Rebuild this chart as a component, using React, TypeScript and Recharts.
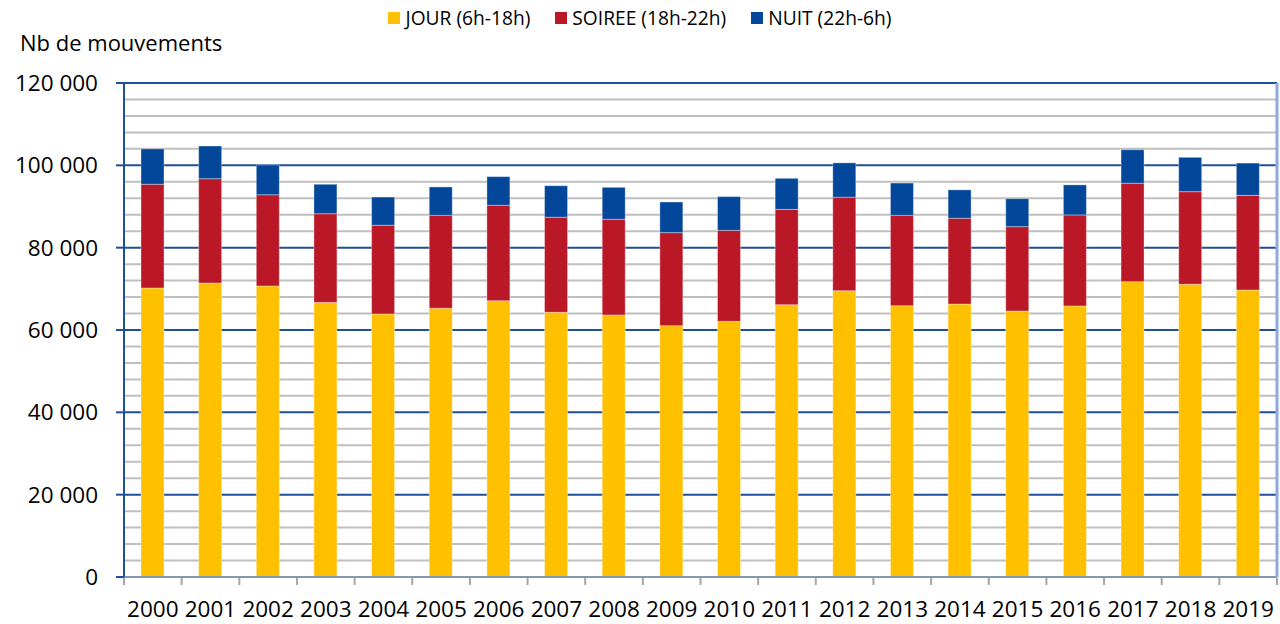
import { Bar, BarChart, CartesianGrid, XAxis, YAxis } from 'recharts'

const years = ['2000', '2001', '2002', '2003', '2004', '2005', '2006', '2007', '2008', '2009',
	'2010', '2011', '2012', '2013', '2014', '2015', '2016', '2017', '2018', '2019']

// mouvements par tranche horaire
const jour = [70200, 71400, 70700, 66700, 63900, 65300, 67100, 64300, 63650, 61050,
	62100, 66150, 69550, 65900, 66300, 64600, 65850, 71750, 71100, 69700]
const soiree = [25200, 25350, 22150, 21550, 21550, 22550, 23200, 23100, 23250, 22600,
	22100, 23150, 22700, 21950, 20850, 20500, 22100, 23900, 22500, 23000]
const nuit = [8600, 7950, 7250, 7150, 6850, 6900, 6950, 7650, 7750, 7450,
	8200, 7550, 8350, 7850, 6900, 6800, 7300, 8150, 8350, 7850]

const yTicks = [0, 20000, 40000, 60000, 80000, 100000, 120000]
const minorLines = [4000, 8000, 12000, 16000, 24000, 28000, 32000, 36000, 44000, 48000, 52000, 56000,
	64000, 68000, 72000, 76000, 84000, 88000, 92000, 96000, 104000, 108000, 112000, 116000]

const series = [
	{ key: 'jour', name: 'JOUR (6h-18h)', color: '#FFC000' },
	{ key: 'soiree', name: 'SOIREE (18h-22h)', color: '#BA1826' },
	{ key: 'nuit', name: 'NUIT (22h-6h)', color: '#03479A' },
]

const data = years.map((year, i) => ({ year, jour: jour[i], soiree: soiree[i], nuit: nuit[i] }))

const font = '"Open Sans", sans-serif'
const fmt = (v: number) => String(v).replace(/\B(?=(\d{3})+(?!\d))/g, ' ')

function YearTick(props: any) {
	const { x, y, payload, index, visibleTicksCount } = props
	const half = payload?.offset ?? 28.8
	return (
		<g>
			<line x1={x - half} x2={x - half} y1={y + 1} y2={y + 8} stroke="#A6A6A6" strokeWidth={2} />
			{index === visibleTicksCount - 1 && (
				<line x1={x + half} x2={x + half} y1={y + 1} y2={y + 8} stroke="#A6A6A6" strokeWidth={2} />
			)}
			<text x={x} y={y + 40} textAnchor="middle" fill="#000" fontSize={22.5} fontFamily={font}>
				{payload.value}
			</text>
		</g>
	)
}

export default function App() {
	return (
		<div style={{ position: 'absolute', left: 0, top: 0, width: 1280, height: 624, background: '#fff', fontFamily: font }}>
			<div style={{ position: 'absolute', left: 0, top: 5, width: 1280, display: 'flex', justifyContent: 'center', gap: 25, fontSize: 19.2, lineHeight: '26px' }}>
				{series.map((s) => (
					<div key={s.key} style={{ display: 'flex', alignItems: 'center' }}>
						<span style={{ width: 12, height: 12, background: s.color, marginRight: 5, display: 'inline-block' }} />
						<span>{s.name}</span>
					</div>
				))}
			</div>
			<div style={{ position: 'absolute', left: 20, top: 26, fontSize: 22, lineHeight: '32px' }}>Nb de mouvements</div>
			<div style={{ position: 'absolute', left: 0, top: 0 }}>
				<BarChart width={1280} height={624} data={data} margin={{ top: 83, right: 0, bottom: 0, left: 0 }} barSize={23}>
					<CartesianGrid vertical={false} horizontalValues={minorLines} stroke="#BFBFBF" strokeWidth={2} />
					<CartesianGrid vertical={false} horizontalValues={yTicks} stroke="#1F4E9A" strokeWidth={2} />
					<XAxis
						dataKey="year"
						height={47}
						interval={0}
						tickSize={0}
						tickMargin={0}
						tick={<YearTick />}
						axisLine={{ stroke: '#8497B0', strokeWidth: 2 }}
					/>
					<YAxis
						width={124}
						domain={[0, 120000]}
						ticks={yTicks}
						interval={0}
						tickSize={8}
						tickMargin={18}
						tickFormatter={fmt}
						tick={{ fill: '#000', fontSize: 22.5, fontFamily: font }}
						tickLine={{ stroke: '#1F4E9A', strokeWidth: 2 }}
						axisLine={{ stroke: '#1F4E9A', strokeWidth: 2 }}
					/>
					<YAxis yAxisId="r" orientation="right" width={3} tick={false} tickLine={false} axisLine={{ stroke: '#8FAADC', strokeWidth: 3 }} />
					{series.map((s) => (
						<Bar key={s.key} dataKey={s.key} name={s.name} stackId="a" fill={s.color} stroke="#ffffff" strokeOpacity={0.35} strokeWidth={1} isAnimationActive={false} />
					))}
				</BarChart>
			</div>
		</div>
	)
}
